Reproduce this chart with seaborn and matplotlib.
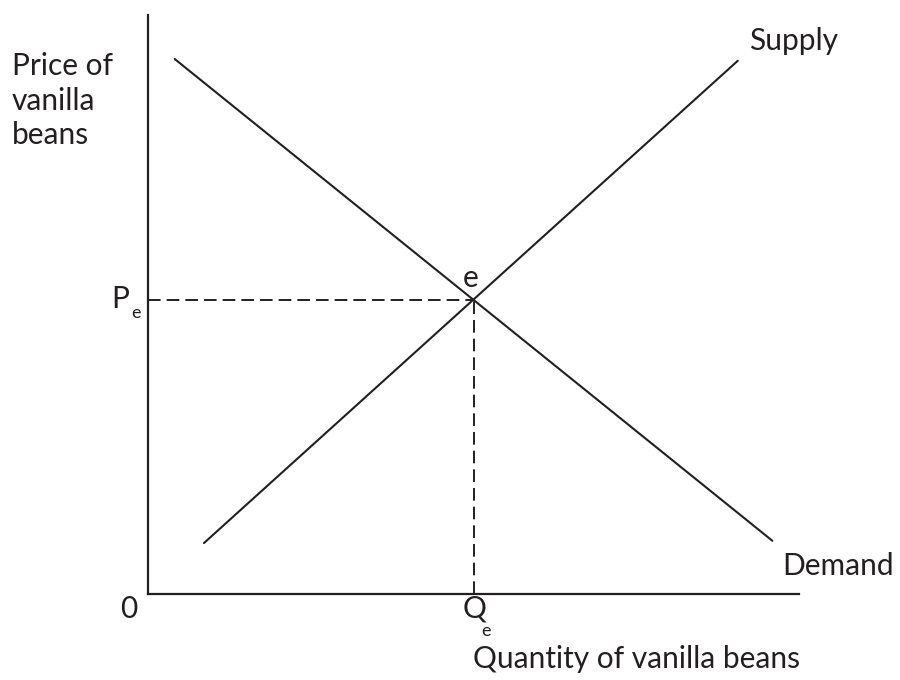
import pandas as pd
import matplotlib.pyplot as plt
import seaborn as sns

# curve end points (quantity, price) in chart units
demand_q = [0.41, 9.59]
demand_p = [9.24, 0.92]
supply_q = [0.86, 9.06]
supply_p = [0.88, 9.21]
eq_q = 5.0
eq_p = 5.08

INK = "#231f20"

sns.set_style("white")
plt.rcParams["font.family"] = ["Lato", "DejaVu Sans"]

fig = plt.figure(figsize=(9, 6.8), dpi=100)
ax = fig.add_axes([148 / 900, 86 / 680, 651 / 900, 579 / 680])

curves = pd.concat([
    pd.DataFrame({"q": demand_q, "p": demand_p, "curve": "Demand"}),
    pd.DataFrame({"q": supply_q, "p": supply_p, "curve": "Supply"}),
])
sns.lineplot(data=curves, x="q", y="p", units="curve", estimator=None,
             color=INK, linewidth=1.5, ax=ax, legend=False, sort=False)

# equilibrium guides
ax.plot([0, eq_q], [eq_p, eq_p], color=INK, linewidth=1.4, dashes=(6.5, 3.1))
ax.plot([eq_q, eq_q], [0, eq_p], color=INK, linewidth=1.4, dashes=(6.5, 3.1))

ax.set_xlim(0, 10)
ax.set_ylim(0, 10)
ax.set_xticks([])
ax.set_yticks([])
ax.set_xlabel("")
ax.set_ylabel("")
sns.despine(ax=ax)
for side in ("left", "bottom"):
    ax.spines[side].set_color(INK)
    ax.spines[side].set_linewidth(1.6)

fs = 21.5
sub = 13
ax.text(9.23, 9.40, "Supply", fontsize=fs, color=INK, va="baseline")
ax.text(9.74, 0.33, "Demand", fontsize=fs, color=INK, va="baseline")
ax.text(4.96, 5.30, "e", fontsize=fs, color=INK, ha="center", va="baseline")
ax.text(-0.29, -0.41, "0", fontsize=fs, color=INK, ha="center", va="baseline",
        clip_on=False)
ax.text(4.84, -0.41, "Q", fontsize=fs, color=INK, va="baseline", clip_on=False)
ax.text(5.12, -0.725, "e", fontsize=sub, color=INK, va="baseline", clip_on=False)
ax.text(-0.57, 4.94, "P", fontsize=fs, color=INK, va="baseline", clip_on=False)
ax.text(-0.26, 4.77, "e", fontsize=sub, color=INK, va="baseline", clip_on=False)

for line, base in zip(["Price of", "vanilla", "beans"], [75, 110, 144]):
    fig.text(12 / 900, 1 - base / 680, line, fontsize=fs, color=INK,
             va="baseline")
fig.text(800 / 900, 1 - 668 / 680, "Quantity of vanilla beans", fontsize=fs,
         color=INK, ha="right", va="baseline")

fig.savefig("out.png", dpi=100)
plt.close(fig)
